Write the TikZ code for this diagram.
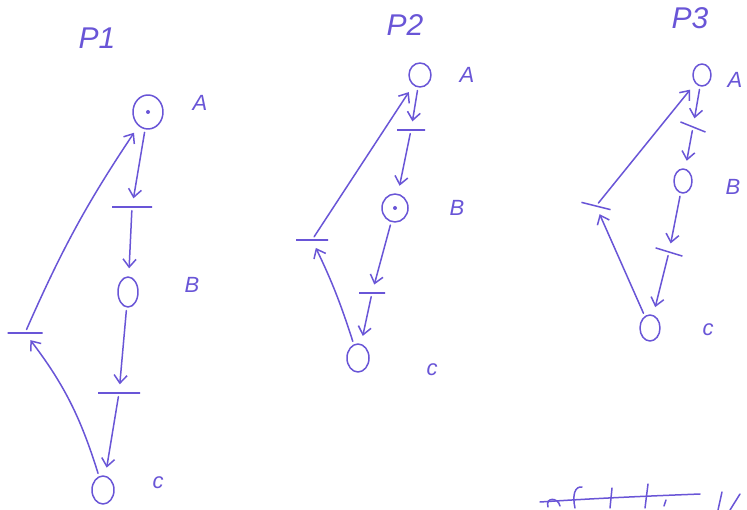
\documentclass[tikz,border=0pt]{standalone}
\usepackage{fontspec}
\setmainfont{Liberation Sans}
\usetikzlibrary{arrows.meta,shapes.geometric}
\definecolor{pen}{RGB}{105,85,215}
\begin{document}
\begin{tikzpicture}[x=1pt,y=-1pt,
  penline/.style={draw=pen, line width=1.5pt, line cap=round, line join=round},
  place/.style={ellipse, penline, inner sep=0pt},
  token/.style={circle, fill=pen, inner sep=0pt, minimum size=4pt},
  trans/.style={rectangle, draw=pen, line width=1.5pt, inner sep=0pt, minimum height=0pt},
  arc/.style={penline, -{Straight Barb[length=8pt,width=13pt]}, shorten >=8pt, shorten <=3pt},
  lab/.style={text=pen, font=\itshape\fontsize{22}{22}\selectfont},
  ttl/.style={text=pen, font=\itshape\fontsize{30}{30}\selectfont}]
\useasboundingbox[fill=white] (0,0) rectangle (747,510);

% ---------- P1 ----------
\node[ttl] (p1) at (97,38) {P1};
\node[place, minimum width=30pt, minimum height=34pt] (A1) at (148,112) {};
\node[token] (kA1) at (A1.center) {};
\node[trans, minimum width=40pt] (T11) at (132,207) {};
\node[place, minimum width=20pt, minimum height=30pt] (B1) at (128,292) {};
\node[trans, minimum width=42pt] (T12) at (119,393) {};
\node[place, minimum width=22pt, minimum height=28pt] (C1) at (103,490) {};
\node[trans, minimum width=35pt] (T13) at (25,333) {};
\node[lab] (lA1) at (200,103) {A};
\node[lab] (lB1) at (192,285) {B};
\node[lab] (lC1) at (158,483) {c};
\draw[arc] (A1) -- (T11);
\draw[arc] (T11) -- (B1);
\draw[arc] (B1) -- (T12);
\draw[arc] (T12) -- (C1);
\draw[arc] (C1) to[bend right=10] (T13);
\draw[arc] (T13) to[bend left=5] (A1);

% ---------- P2 ----------
\node[ttl] (p2) at (405,25) {P2};
\node[place, minimum width=22pt, minimum height=24pt] (A2) at (420,75) {};
\node[trans, minimum width=28pt] (T21) at (411,130) {};
\node[place, minimum width=26pt, minimum height=28pt] (B2) at (395,208) {};
\node[token] (kB2) at (B2.center) {};
\node[trans, minimum width=26pt] (T22) at (372,293) {};
\node[place, minimum width=22pt, minimum height=28pt] (C2) at (358,358) {};
\node[trans, minimum width=32pt] (T23) at (312,240) {};
\node[lab] (lA2) at (467,75) {A};
\node[lab] (lB2) at (457,208) {B};
\node[lab] (lC2) at (432,370) {c};
\draw[arc] (A2) -- (T21);
\draw[arc] (T21) -- (B2);
\draw[arc] (B2) -- (T22);
\draw[arc] (T22) -- (C2);
\draw[arc] (C2) to[bend right=4] (T23);
\draw[arc] (T23) -- (A2);

% ---------- P3 ----------
\node[ttl] (p3) at (690,18) {P3};
\node[place, minimum width=18pt, minimum height=22pt] (A3) at (702,75) {};
\node[trans, minimum width=27pt, rotate=-22] (T31) at (693,127) {};
\node[place, minimum width=18pt, minimum height=24pt] (B3) at (683,181) {};
\node[trans, minimum width=28pt, rotate=-17] (T32) at (669,252) {};
\node[place, minimum width=20pt, minimum height=26pt] (C3) at (650,328) {};
\node[trans, minimum width=30pt, rotate=-14] (T33) at (596,206) {};
\node[lab] (lA3) at (735,80) {A};
\node[lab] (lB3) at (733,187) {B};
\node[lab] (lC3) at (708,330) {c};
\draw[arc] (A3) -- (T31);
\draw[arc] (T31) -- (B3);
\draw[arc] (B3) -- (T32);
\draw[arc] (T32) -- (C3);
\draw[arc] (C3) -- (T33);
\draw[arc] (T33) -- (A3);

% ---------- scribble (cut-off handwriting) ----------
\draw[penline] (540,502) .. controls (600,498) and (650,496) .. (700,494);
\draw[penline] (548,507) .. controls (545,497) and (558,497) .. (560,506);
\draw[penline] (575,508) .. controls (572,495) and (575,486) .. (582,487);
\draw[penline] (610,508) -- (612,488);
\draw[penline] (645,508) -- (648,484);
\draw[penline] (664,506) -- (666,500);
\draw[penline] (718,510) -- (722,492);
\draw[penline] (730,510) -- (740,494);
\end{tikzpicture}
\end{document}
